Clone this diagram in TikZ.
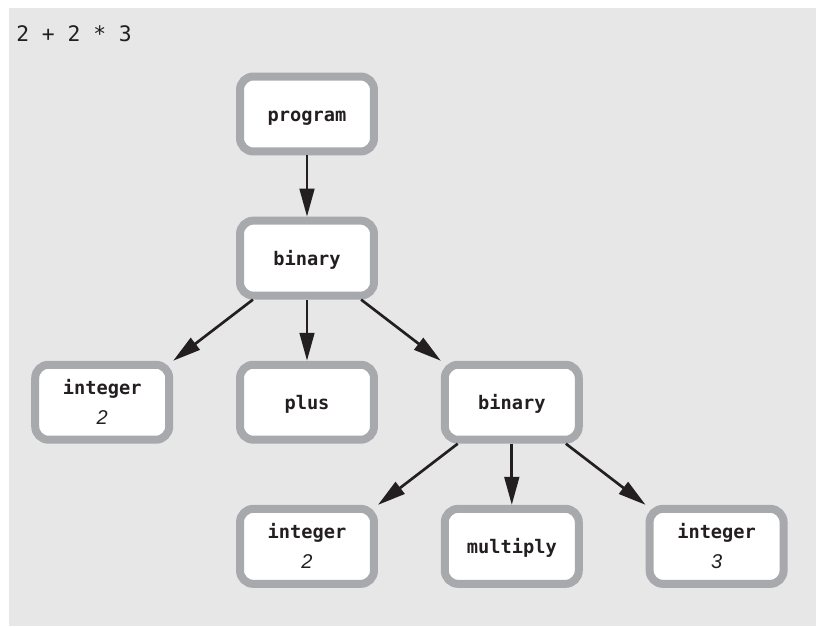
\documentclass[tikz,border=0pt]{standalone}
\usepackage{fontspec}
\setmonofont{DejaVu Sans Mono}
\newfontfamily\numfont{Liberation Sans}
\usepackage{tikz}
\usetikzlibrary{arrows.meta,shapes,positioning}
\usepackage{xcolor}
\definecolor{astbg}{RGB}{230,231,230}
\definecolor{astgray}{RGB}{167,169,172}
\definecolor{astblack}{RGB}{35,31,32}
\newcommand{\astfont}{\ttfamily\bfseries\fontsize{14}{22.5}\selectfont}
\newcommand{\astnum}[1]{{\numfont\mdseries\itshape\fontsize{15}{22.5}\selectfont #1}}
\tikzstyle{arrow} = [line width=2pt,-{Triangle[length=21pt,width=11pt]},color=astblack]
\tikzstyle{astbox} = [rectangle, rounded corners=10pt, minimum width=100.5pt, minimum height=56.25pt, text centered, draw=astgray, fill=white, line width=6pt, font=\astfont, text=astblack]
\tikzstyle{astnode} = [astbox, align=center]
\tikzstyle{astleaf} = [astbox, text height=15pt, text depth=4pt]

\begin{document}
\begin{tikzpicture}
% Background
\fill[white] (-8.095,3.006) rectangle (13.421,-13.5);
\fill[astbg] (-7.857,2.795) rectangle (13.421,-13.5);
\node (expr) [anchor=base west, inner sep=0pt, font=\ttfamily\fontsize{16}{19}\selectfont, text=astblack] at (-7.673,1.925) {2 + 2 * 3};

% Tree nodes
\node (program) [astleaf] at (0,0) {program};
\node (bin1) [astleaf, below of=program, node distance=3.8cm] {binary};
\node (plus) [astleaf, below of=bin1, node distance=3.8cm] {plus};
\node (intL) [astnode, left of=plus, node distance=5.4cm] {integer\\\astnum{2}};
\node (bin2) [astleaf, right of=plus, node distance=5.4cm] {binary};
\node (mult) [astleaf, below of=bin2, node distance=3.8cm] {multiply};
\node (intA) [astnode, left of=mult, node distance=5.4cm] {integer\\\astnum{2}};
\node (intB) [astnode, right of=mult, node distance=5.4cm] {integer\\\astnum{3}};

% Edges
\draw[arrow] (program) -- (bin1);
\draw[arrow] (bin1) -- (intL.north east);
\draw[arrow] (bin1) -- (plus);
\draw[arrow] (bin1) -- (bin2.north west);
\draw[arrow] (bin2) -- (intA.north east);
\draw[arrow] (bin2) -- (mult);
\draw[arrow] (bin2) -- (intB.north west);
\end{tikzpicture}
\end{document}
